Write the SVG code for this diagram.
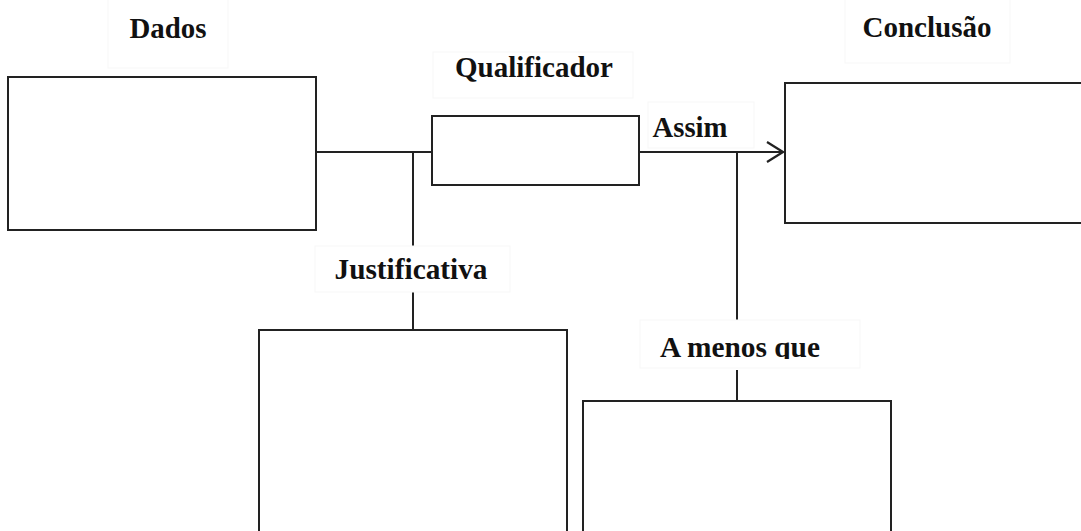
<svg xmlns="http://www.w3.org/2000/svg" width="1081" height="531" viewBox="0 0 1081 531">
  <style>
    .box { fill: #ffffff; stroke: #222222; stroke-width: 2; }
    .wire { fill: none; stroke: #222222; stroke-width: 2; }
    .tag { fill: #ffffff; stroke: #f7f7f7; stroke-width: 1; }
    .lbl { font-family: "Liberation Serif", "Times New Roman", serif; font-weight: bold; font-size: 29px; fill: #111111; text-anchor: middle; }
  </style>
  <defs>
    <marker id="chevron" viewBox="0 0 18 22" refX="17" refY="11" markerWidth="18" markerHeight="22" markerUnits="userSpaceOnUse" orient="auto">
      <path d="M1,1 L17,11 L1,21" fill="none" stroke="#222222" stroke-width="2.2"/>
    </marker>
    <clipPath id="clip-menos">
      <rect x="640" y="320" width="220" height="39"/>
    </clipPath>
  </defs>
  <rect width="1081" height="531" fill="#ffffff"/>

  <!-- connectors -->
  <g id="connectors">
    <line class="wire" x1="316" y1="152" x2="432" y2="152"/>
    <line class="wire" x1="639" y1="152" x2="783" y2="152" marker-end="url(#chevron)"/>
    <line class="wire" x1="413" y1="152" x2="413" y2="246"/>
    <line class="wire" x1="413" y1="292" x2="413" y2="330"/>
    <line class="wire" x1="737" y1="152" x2="737" y2="320"/>
    <line class="wire" x1="737" y1="370" x2="737" y2="401"/>
  </g>

  <g id="dados">
    <rect class="tag" x="108" y="-2" width="120" height="70"/>
    <text class="lbl" x="168" y="38" textLength="77" lengthAdjust="spacingAndGlyphs">Dados</text>
    <rect class="box" x="8" y="77" width="308" height="153"/>
  </g>

  <g id="qualificador">
    <rect class="tag" x="433" y="52" width="200" height="46"/>
    <text class="lbl" x="534" y="77" textLength="158" lengthAdjust="spacingAndGlyphs">Qualificador</text>
    <rect class="box" x="432" y="116" width="207" height="69"/>
  </g>

  <g id="assim">
    <rect class="tag" x="648" y="102" width="106" height="46"/>
    <text class="lbl" x="690" y="137" textLength="75" lengthAdjust="spacingAndGlyphs">Assim</text>
  </g>

  <g id="conclusao">
    <rect class="tag" x="845" y="-2" width="165" height="65"/>
    <text class="lbl" x="927" y="37" textLength="129" lengthAdjust="spacingAndGlyphs">Conclusão</text>
    <rect class="box" x="785" y="83" width="310" height="140"/>
  </g>

  <g id="justificativa">
    <rect class="tag" x="315" y="246" width="195" height="46"/>
    <text class="lbl" x="411" y="279" textLength="153" lengthAdjust="spacingAndGlyphs">Justificativa</text>
    <rect class="box" x="259" y="330" width="308" height="220"/>
  </g>

  <g id="a-menos-que">
    <rect class="tag" x="640" y="320" width="220" height="48"/>
    <text class="lbl" x="740" y="357" textLength="160" lengthAdjust="spacingAndGlyphs" clip-path="url(#clip-menos)">A menos que</text>
    <rect class="box" x="583" y="401" width="308" height="150"/>
  </g>
</svg>
